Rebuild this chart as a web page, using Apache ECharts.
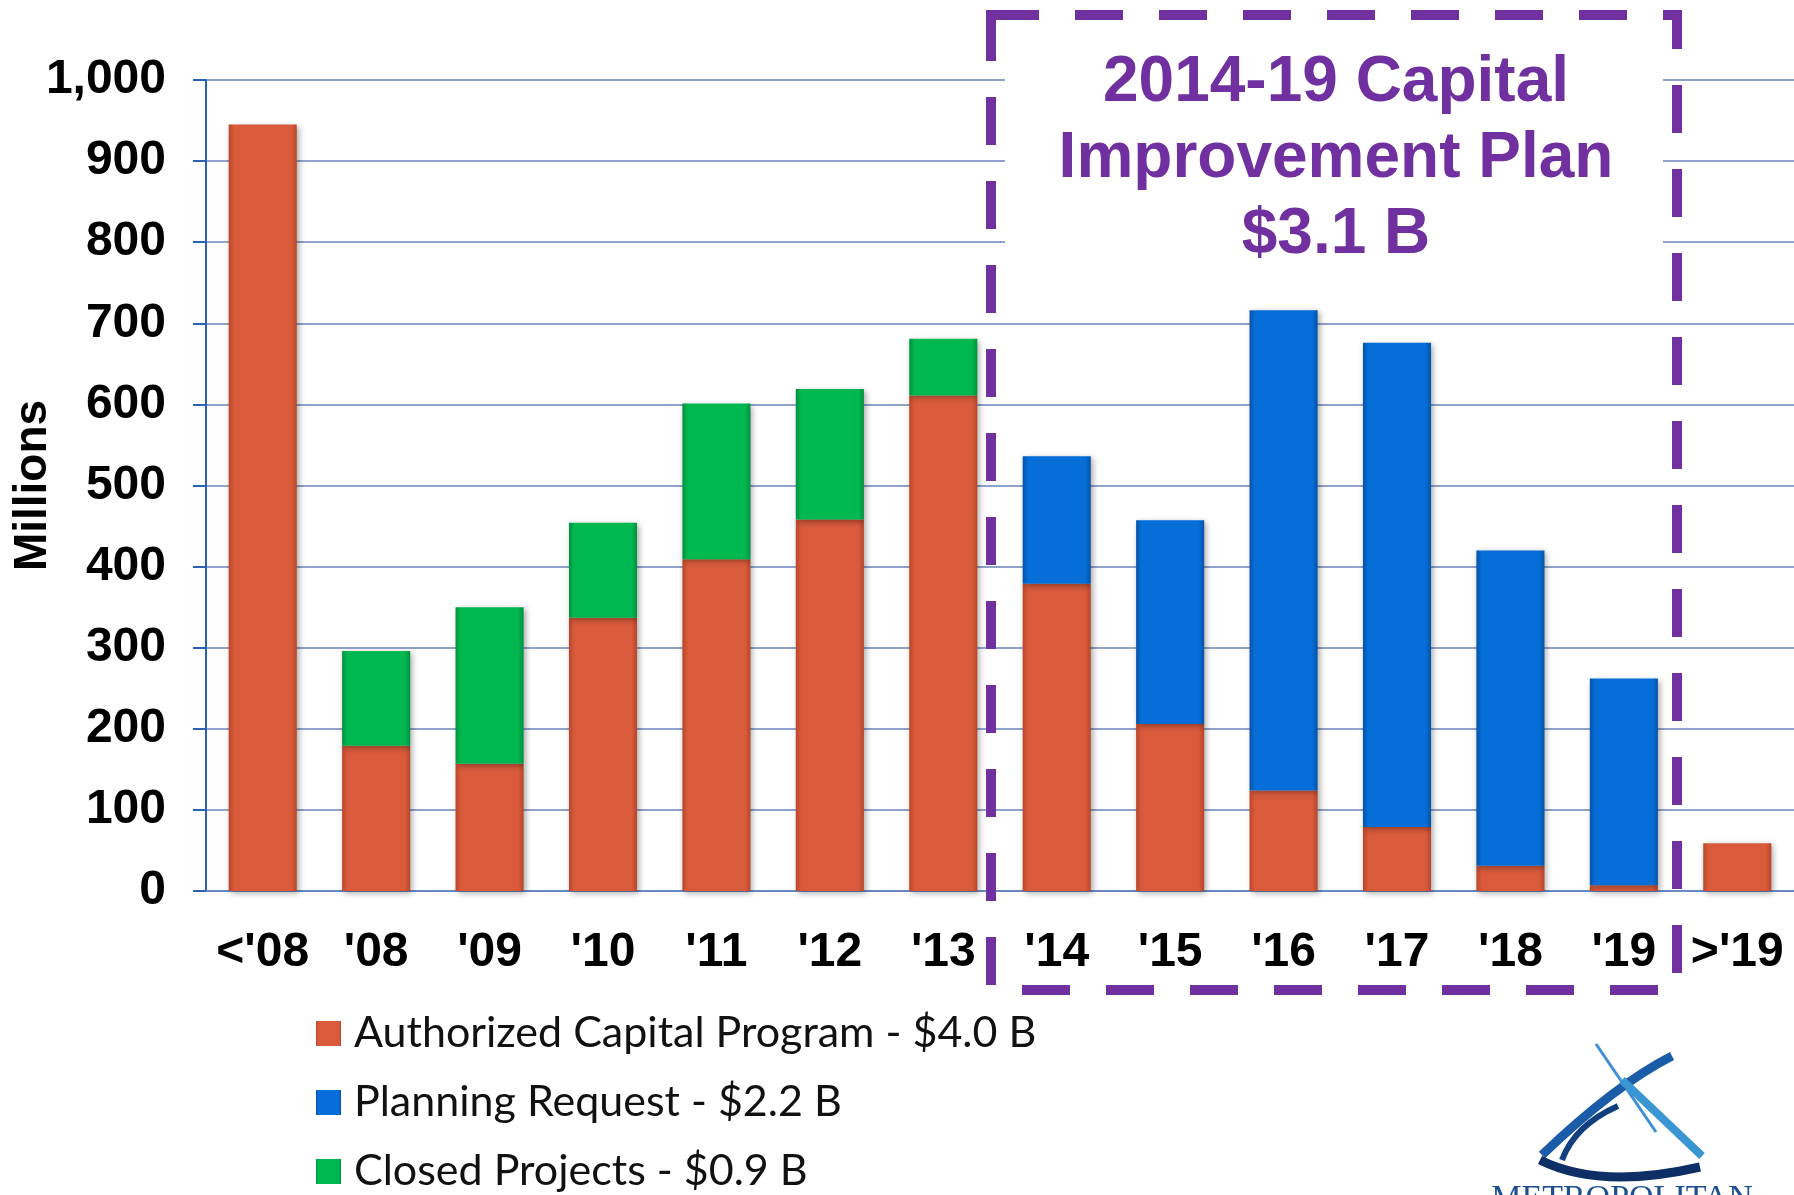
<!DOCTYPE html>
<html>
<head>
<meta charset="utf-8">
<script src="https://cdn.jsdelivr.net/npm/echarts@6/dist/echarts.min.js"></script>
<style>
  html, body { margin: 0; padding: 0; background: #fff; }
  #chart { width: 1794px; height: 1195px; }
</style>
</head>
<body>
<div id="chart"></div>
<script>
var categories = ["<'08", "'08", "'09", "'10", "'11", "'12", "'13", "'14", "'15", "'16", "'17", "'18", "'19", ">'19"];
var authorized = [945, 179, 157, 337, 409, 458, 611, 379, 206, 124, 79, 31, 7, 59];
var planning = [0, 0, 0, 0, 0, 0, 0, 157, 251, 592, 597, 389, 255, 0];
var closedProjects = [0, 117, 193, 117, 192, 161, 70, 0, 0, 0, 0, 0, 0, 0];
var yTicks = [0, 100, 200, 300, 400, 500, 600, 700, 800, 900, 1000];
var legendNames = ['Authorized Capital Program - $4.0 B', 'Planning Request - $2.2 B', 'Closed Projects - $0.9 B'];

var dom = document.getElementById('chart');
var myChart = echarts.init(dom, null, { renderer: 'canvas' });

// horizontal shading so bars look a little rounded
function barFill(mid, edge) {
    return new echarts.graphic.LinearGradient(0, 0, 1, 0, [
        { offset: 0, color: edge },
        { offset: 0.08, color: mid },
        { offset: 0.92, color: mid },
        { offset: 1, color: edge }
    ]);
}

var shadow = {
    shadowBlur: 6,
    shadowColor: 'rgba(0,0,0,0.35)',
    shadowOffsetX: 2,
    shadowOffsetY: 2
};

var orange = '#D95B3C', blue = '#056ED8', green = '#00B850', purple = '#7030A0';

var option = {
    animation: false,
    backgroundColor: '#fff',
    grid: { left: 206, right: 0, top: 80, bottom: 304, outerBoundsMode: 'none' },
    legend: {
        orient: 'vertical',
        left: 311,
        top: 1007,
        height: 300,
        itemWidth: 25,
        itemHeight: 25,
        itemGap: 26,
        icon: 'rect',
        textStyle: { fontFamily: 'Lato', fontSize: 43, color: '#111', padding: [0, 0, 0, 8] },
        data: legendNames
    },
    xAxis: {
        type: 'category',
        data: categories,
        axisLine: { lineStyle: { color: '#6A88C2', width: 2 } },
        axisTick: { show: false },
        axisLabel: {
            interval: 0,
            hideOverlap: false,
            margin: 38,
            fontFamily: 'Liberation Sans',
            fontWeight: 'bold',
            fontSize: 48,
            color: '#000'
        }
    },
    yAxis: {
        type: 'value',
        min: yTicks[0],
        max: yTicks[yTicks.length - 1],
        interval: 100,
        name: 'Millions',
        nameLocation: 'middle',
        nameGap: 150,
        nameMoveOverlap: false,
        nameTextStyle: { fontFamily: 'Liberation Sans', fontWeight: 'bold', fontSize: 46, color: '#000' },
        axisLine: { show: true, lineStyle: { color: '#2A62B5', width: 2 } },
        axisTick: { show: true, length: 13, lineStyle: { color: '#2A62B5', width: 2 } },
        splitLine: { lineStyle: { color: '#8EA2CC', width: 2 } },
        axisLabel: {
            margin: 40,
            fontFamily: 'Liberation Sans',
            fontWeight: 'bold',
            fontSize: 48,
            color: '#000',
            formatter: function (v) { return v.toLocaleString('en-US'); }
        }
    },
    series: [
        {
            name: legendNames[0],
            type: 'bar',
            stack: 'total',
            data: authorized,
            barCategoryGap: '40%',
            itemStyle: Object.assign({ color: barFill(orange, '#B84628') }, shadow)
        },
        {
            name: legendNames[1],
            type: 'bar',
            stack: 'total',
            data: planning,
            itemStyle: Object.assign({ color: barFill(blue, '#0552A8') }, shadow)
        },
        {
            name: legendNames[2],
            type: 'bar',
            stack: 'total',
            data: closedProjects,
            itemStyle: Object.assign({ color: barFill(green, '#00913F') }, shadow)
        }
    ],
    graphic: [
        // white patch behind the plan title
        {
            type: 'rect',
            z: 10,
            shape: { x: 1005, y: 30, width: 658, height: 248 },
            style: { fill: '#fff' }
        },
        {
            type: 'rect',
            z: 11,
            shape: { x: 991, y: 15, width: 686, height: 975 },
            style: { fill: null, stroke: purple, lineWidth: 10, lineDash: [48, 36] }
        },
        {
            type: 'text',
            z: 12,
            x: 1336,
            y: 159,
            style: {
                text: '2014-19 Capital\nImprovement Plan\n$3.1 B',
                font: 'bold 64px "Liberation Sans"',
                fill: purple,
                align: 'center',
                verticalAlign: 'middle',
                lineHeight: 76
            }
        },
        // rough logo
        {
            type: 'group',
            z: 12,
            children: [
                { type: 'line', shape: { x1: 1596, y1: 1044, x2: 1656, y2: 1132 }, style: { stroke: '#3D8FD6', lineWidth: 3 } },
                { type: 'bezierCurve', shape: { x1: 1672, y1: 1056, x2: 1542, y2: 1155, cpx1: 1615, cpy1: 1085 }, style: { stroke: '#1A5CA8', lineWidth: 9, fill: null } },
                { type: 'bezierCurve', shape: { x1: 1618, y1: 1106, x2: 1562, y2: 1160, cpx1: 1575, cpy1: 1125 }, style: { stroke: '#123F7E', lineWidth: 6, fill: null } },
                { type: 'bezierCurve', shape: { x1: 1540, y1: 1160, x2: 1700, y2: 1167, cpx1: 1600, cpy1: 1190 }, style: { stroke: '#0E2F66', lineWidth: 9, fill: null } },
                { type: 'line', shape: { x1: 1622, y1: 1080, x2: 1702, y2: 1156 }, style: { stroke: '#3A95D3', lineWidth: 8 } },
                { type: 'text', x: 1622, y: 1182, style: { text: 'METROPOLITAN', font: '34px "Liberation Serif"', fill: '#1E4F8F', align: 'center', verticalAlign: 'top' } }
            ]
        }
    ]
};

myChart.setOption(option);
window.addEventListener('resize', myChart.resize);
</script>
</body>
</html>
